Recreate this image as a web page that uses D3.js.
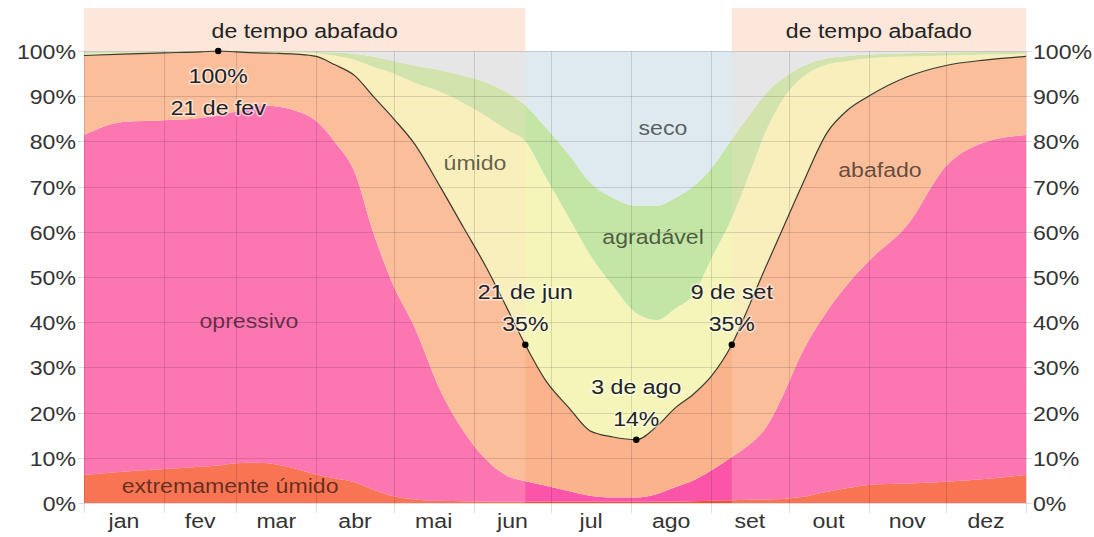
<!DOCTYPE html>
<html>
<head>
<meta charset="utf-8">
<script src="https://cdn.jsdelivr.net/npm/d3@7/dist/d3.min.js"></script>
<style>
  html, body { margin: 0; padding: 0; background: #ffffff; }
  svg { display: block; font-family: "Liberation Sans", Arial, sans-serif; }
</style>
</head>
<body>
<svg id="chart" width="1094" height="537"></svg>
<script>
// ---- data (day of year, cumulative % of hours at or below each comfort level) ----
const days = [0,15,31,45,52,59,67,74,82,90,97,105,112,120,128,138,147,156,164,171,179,188,196,205,214,222,229,236,243,251,258,264,271,278,288,296,304,319,334,349,365];
const extremeTop = [6.2,6.9,7.5,8.0,8.3,8.8,8.9,8.6,7.6,6.3,5.5,4.6,3.0,1.5,0.8,0.5,0.4,0.3,0.3,0.3,0.3,0.3,0.3,0.3,0.3,0.3,0.3,0.4,0.5,0.6,0.7,0.8,0.9,1.3,2.5,3.3,4.0,4.3,4.7,5.3,6.2];
const oppressiveTop = [81.4,84.3,84.7,85.2,85.8,86.6,88.0,87.8,86.8,84.5,80.0,73.0,60.0,48.0,39.0,25.0,16.0,9.5,6.0,4.8,3.8,2.6,1.6,1.2,1.2,2.0,3.5,5.0,7.2,10.2,13.0,16.5,24.0,33.0,42.5,48.5,53.5,61.5,74.5,79.8,81.4];
const muggyTop = [99.0,99.3,99.6,99.8,100,99.8,99.6,99.5,99.3,98.8,97.0,94.5,90.0,85.0,79.5,70.0,61.0,52.0,43.0,35.0,27.0,21.0,16.0,14.6,14.0,17.0,21.0,24.0,28.0,35.0,44.0,52.0,61.0,70.0,82.0,87.0,90.0,94.3,96.8,98.0,98.8];
const humidTop = [99.4,99.6,99.8,99.9,100,99.9,99.8,99.8,99.7,99.5,99.0,98.0,96.5,95.0,93.0,91.0,88.5,85.5,82.5,80.0,72.0,63.0,55.0,48.0,42.0,40.5,43.0,46.0,54.0,63.0,73.0,82.0,89.5,94.0,97.0,97.8,98.4,98.8,99.0,99.2,99.4];
const comfortableTop = [99.8,99.9,99.9,100,100,100,99.9,99.9,99.9,99.8,99.7,99.4,98.8,97.8,96.8,95.8,94.5,93.0,90.8,88.0,83.0,77.0,71.0,67.5,65.8,65.8,67.5,70.0,74.0,80.5,86.0,90.5,94.0,96.5,98.4,98.9,99.2,99.5,99.7,99.8,99.8];

const bandNames = ["extremamente úmido","opressivo","abafado","úmido","agradável","seco"];
const bandColors = ["#f7502a","#fb55aa","#fab38b","#f6f5b9","#c3e5a5","#dee9f0"];

const monthNames = ["jan","fev","mar","abr","mai","jun","jul","ago","set","out","nov","dez"];
const monthStarts = [0,31,59,90,120,151,181,212,243,273,304,334,365];
const yTicks = [0,10,20,30,40,50,60,70,80,90,100];

const muggyWindowStart = [0, 251];
const muggyWindowEnd = [171, 365];
const muggyWindowLabel = "de tempo abafado";

const markerDays = [52, 171, 214, 251];
const markerValues = [100, 35, 14, 35];
const markerDates = ["21 de fev", "21 de jun", "3 de ago", "9 de set"];

const bandLabelDays = [56.6, 63.9, 308.4, 151.5, 220.5, 224.3];
const bandLabelValues = [2.2, 38.7, 72.1, 73.7, 57.3, 81.4];

// ---- layout ----
const svg = d3.select("#chart");
const x = d3.scaleLinear().domain([0, 365]).range([84, 1026]);
const y = d3.scaleLinear().domain([0, 100]).range([503, 51]);
const FS = 21, SX = 1.1;

function stext(g, px, py, str, anchor) {
  return g.append("text")
    .attr("transform", `translate(${px},${py}) scale(${SX},1)`)
    .attr("text-anchor", anchor || "middle")
    .attr("font-size", FS)
    .text(str);
}

const rows = days.map((d, i) => ({
  d,
  b: [0, extremeTop[i], oppressiveTop[i], muggyTop[i], humidTop[i], comfortableTop[i], 100]
}));

// bands
const gBands = svg.append("g");
for (let k = 0; k < 6; k++) {
  const area = d3.area()
    .x(r => x(r.d))
    .y0(r => y(r.b[k]))
    .y1(r => y(r.b[k + 1]))
    .curve(d3.curveMonotoneX);
  gBands.append("path").datum(rows).attr("d", area).attr("fill", bandColors[k]);
}

// muggy-period overlay columns
const gOver = svg.append("g");
muggyWindowStart.forEach((s, i) => {
  const e = muggyWindowEnd[i];
  gOver.append("rect")
    .attr("x", x(s)).attr("width", x(e) - x(s))
    .attr("y", 8).attr("height", y(100) - 8)
    .attr("fill", "#fde7da");
  gOver.append("rect")
    .attr("x", x(s)).attr("width", x(e) - x(s))
    .attr("y", y(100)).attr("height", y(0) - y(100))
    .attr("fill", "rgb(255,225,205)").attr("opacity", 0.25);
  stext(gOver, (x(s) + x(e)) / 2, 38, muggyWindowLabel).attr("fill", "#222");
});

// grid
const gGrid = svg.append("g").attr("stroke", "rgba(0,0,0,0.13)").attr("stroke-width", 1);
yTicks.forEach(t => {
  gGrid.append("line").attr("x1", x(0) - 6).attr("x2", x(365) + 6)
    .attr("y1", Math.round(y(t)) + 0.5).attr("y2", Math.round(y(t)) + 0.5);
});
monthStarts.forEach(m => {
  gGrid.append("line").attr("x1", Math.round(x(m)) + 0.5).attr("x2", Math.round(x(m)) + 0.5)
    .attr("y1", y(100)).attr("y2", y(0) + 10);
});

// axis labels
const gAx = svg.append("g").attr("fill", "#333");
yTicks.forEach(t => {
  stext(gAx, 76, y(t) + 8, t + "%", "end");
  stext(gAx, 1033, y(t) + 8, t + "%", "start");
});
monthNames.forEach((m, i) => {
  stext(gAx, x((monthStarts[i] + monthStarts[i + 1]) / 2), 528, m);
});

// muggy boundary line
const line = d3.line().x(r => x(r.d)).y(r => y(r.b[3])).curve(d3.curveMonotoneX);
svg.append("path").datum(rows).attr("d", line)
  .attr("fill", "none").attr("stroke", "#3a3a30").attr("stroke-width", 1.2);

// band labels
const gLab = svg.append("g").attr("fill", "rgba(0,0,0,0.62)");
bandNames.forEach((n, i) => {
  stext(gLab, x(bandLabelDays[i]), y(bandLabelValues[i]), n);
});

// markers
const gMark = svg.append("g");
markerDays.forEach((d, i) => {
  const px = x(d), py = y(markerValues[i]);
  gMark.append("circle").attr("cx", px).attr("cy", py).attr("r", 3.2).attr("fill", "#000");
  const pct = markerValues[i] + "%";
  let l1, l2, y1, y2;
  if (i === 0) { l1 = pct; l2 = markerDates[i]; y1 = py + 32; y2 = py + 64; }
  else { l1 = markerDates[i]; l2 = pct; y1 = py - 46; y2 = py - 14; }
  [[l1, y1], [l2, y2]].forEach(([s, yy]) => {
    stext(gMark, px, yy, s)
      .attr("fill", "#222")
      .attr("stroke", "rgba(255,255,255,0.55)").attr("stroke-width", 3)
      .attr("paint-order", "stroke").attr("stroke-linejoin", "round");
  });
});
</script>
</body>
</html>
